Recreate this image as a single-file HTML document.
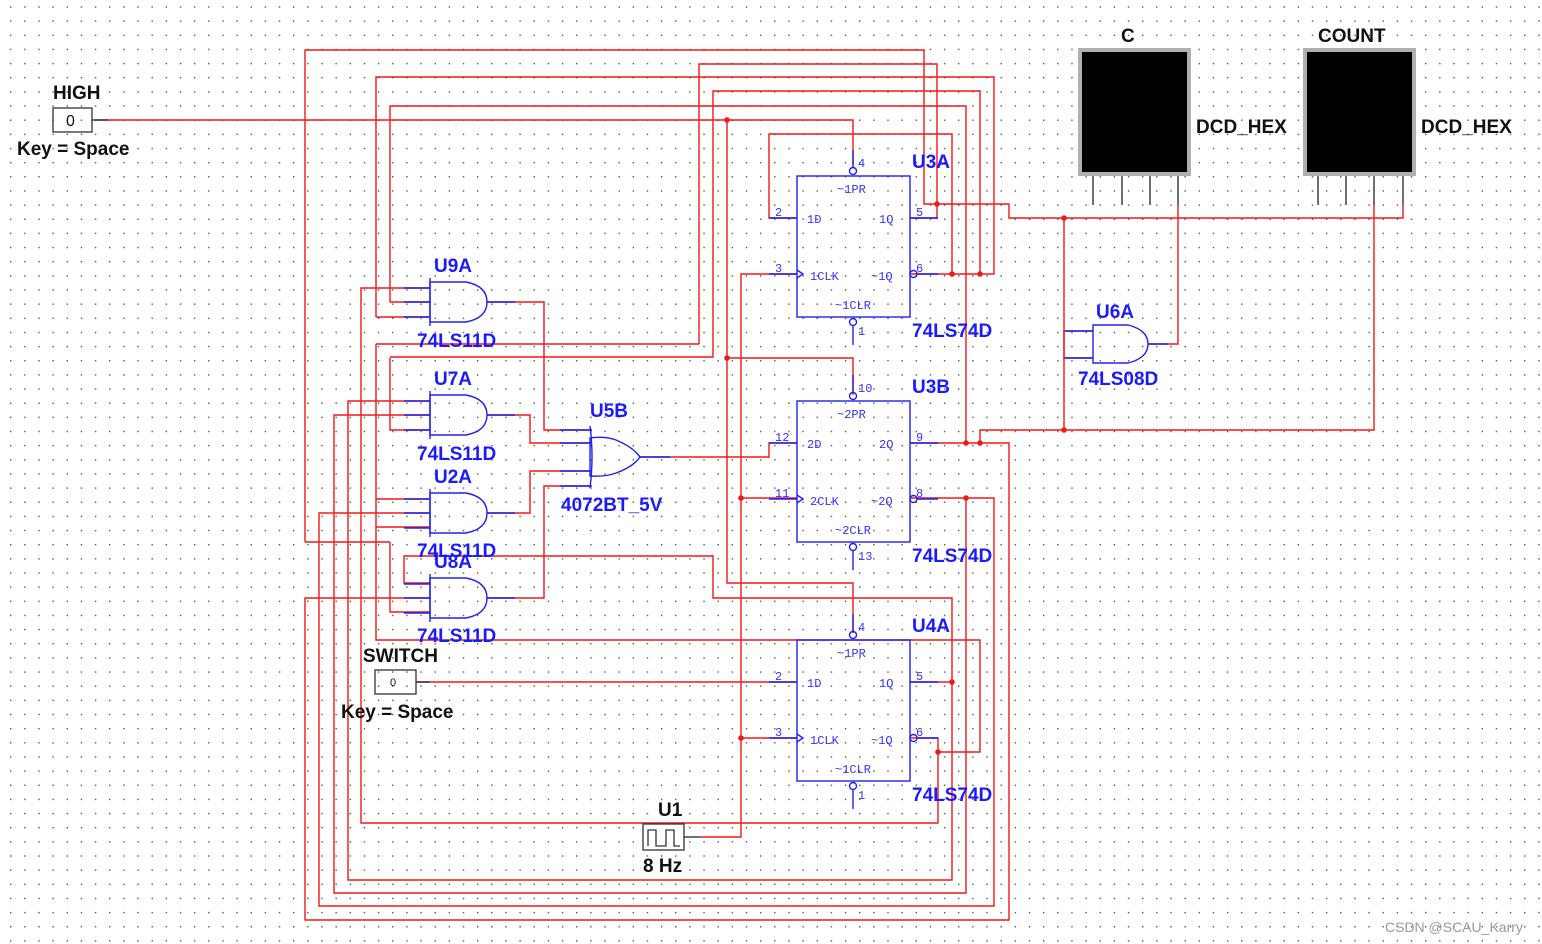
<!DOCTYPE html>
<html><head><meta charset="utf-8"><style>
html,body{margin:0;padding:0;background:#fff;}
svg{display:block;}
.b{font-family:"Liberation Sans",sans-serif;font-weight:bold;font-size:19px;fill:#1a1aff;}
.k{font-family:"Liberation Sans",sans-serif;font-weight:bold;font-size:19px;fill:#111;}
.m{font-family:"Liberation Mono",monospace;font-size:12px;fill:#3333ff;}
</style></head><body>
<svg width="1542" height="944" viewBox="0 0 1542 944" xmlns="http://www.w3.org/2000/svg">
<defs><pattern id="g" x="10" y="6.3" width="14.15" height="14.15" patternUnits="userSpaceOnUse"><rect x="0" y="0" width="1.4" height="1.4" fill="#555"/></pattern></defs>
<rect width="1542" height="944" fill="url(#g)"/>
<g fill="none" stroke="#f01818" stroke-width="1.4">
<polyline points="305,542 305,50 924,50 924,204 1009,204 1009,218 1403,218 1403,205"/>
<polyline points="390,542 390,612 430,612"/>
<line x1="305" y1="542" x2="390" y2="542"/>
<polyline points="699,344 699,64 937,64 937,218 910,218"/>
<polyline points="376,317 376,77 994,77 994,274 910,274"/>
<polyline points="390,357 713,357 713,91 980,91 980,274"/>
<polyline points="390,302 390,106 966,106 966,443"/>
<polyline points="95,120 853,120 853,165"/>
<polyline points="727,120 727,583 853,583 853,633"/>
<polyline points="727,358 853,358 853,395"/>
<polyline points="797,218 769,218 769,134 952,134 952,274"/>
<polyline points="376,344 699,344"/>
<polyline points="700,837 741,837 741,274 797,274"/>
<line x1="741" y1="498" x2="797" y2="498"/>
<line x1="741" y1="738" x2="797" y2="738"/>
<polyline points="430,288 361,288 361,823 938,823 938,738 910,738"/>
<line x1="376" y1="317" x2="430" y2="317"/>
<line x1="390" y1="302" x2="430" y2="302"/>
<polyline points="390,358 390,430 430,430"/>
<polyline points="430,401 348,401 348,880 952,880 952,598 713,598 713,556 404,556 404,583 430,583"/>
<polyline points="430,415 334,415 334,893 966,893 966,498"/>
<polyline points="430,513 319,513 319,906 994,906 994,498 910,498"/>
<polyline points="430,598 305,598 305,920 1009,920 1009,443 910,443"/>
<polyline points="376,344 376,640 980,640 980,752 938,752"/>
<line x1="376" y1="499" x2="430" y2="499"/>
<line x1="376" y1="527" x2="430" y2="527"/>
<line x1="910" y1="682" x2="952" y2="682"/>
<polyline points="487,302 544,302 544,430 590,430"/>
<polyline points="487,415 530,415 530,443 590,443"/>
<polyline points="487,513 530,513 530,471 590,471"/>
<polyline points="487,598 544,598 544,486 590,486"/>
<polyline points="640,457 769,457 769,443 797,443"/>
<polyline points="416,682 797,682"/>
<polyline points="980,443 980,430 1374,430 1374,205"/>
<polyline points="1093,331 1064,331 1064,430"/>
<polyline points="1064,218 1064,358 1093,358"/>
<polyline points="1148,344 1178,344 1178,205"/>
</g>
<g fill="#f01818">
<circle cx="727" cy="120" r="2.8"/><circle cx="727" cy="358" r="2.8"/><circle cx="741" cy="498" r="2.8"/><circle cx="741" cy="738" r="2.8"/>
<circle cx="937" cy="204" r="2.8"/><circle cx="952" cy="274" r="2.8"/><circle cx="980" cy="274" r="2.8"/><circle cx="966" cy="443" r="2.8"/>
<circle cx="980" cy="443" r="2.8"/><circle cx="966" cy="498" r="2.8"/><circle cx="952" cy="682" r="2.8"/><circle cx="938" cy="752" r="2.8"/>
<circle cx="1064" cy="218" r="2.8"/><circle cx="1064" cy="430" r="2.8"/>
</g>
<g fill="none" stroke="#2020ee" stroke-width="1.4">
<g id="and3"><path d="M430,282 L466,282 Q487,286 487,302 Q487,318 466,322 L430,322 Z"/><line x1="430" y1="278" x2="430" y2="326"/>
<line x1="404" y1="288" x2="430" y2="288"/><line x1="404" y1="302" x2="430" y2="302"/><line x1="404" y1="317" x2="430" y2="317"/><line x1="487" y1="302" x2="515" y2="302"/></g>
<use href="#and3" y="113"/><use href="#and3" y="211"/><use href="#and3" y="296"/>
<path d="M590,426 Q594,457 590,488" /><path d="M590,438 Q605,436 616,440 Q633,447 640,457 Q633,467 616,473 Q605,477 590,476 Z"/>
<line x1="560" y1="430" x2="592" y2="430"/><line x1="560" y1="443" x2="592" y2="443"/><line x1="560" y1="471" x2="592" y2="471"/><line x1="560" y1="486" x2="592" y2="486"/><line x1="640" y1="457" x2="670" y2="457"/>
<path d="M1093,325 L1128,325 Q1148,330 1148,344 Q1148,358 1128,363 L1093,363 Z"/>
<line x1="1065" y1="331" x2="1093" y2="331"/><line x1="1065" y1="358" x2="1093" y2="358"/><line x1="1148" y1="344" x2="1168" y2="344"/>
<g id="ff"><rect x="797" y="176" width="113" height="141"/>
<line x1="853" y1="150" x2="853" y2="167"/><circle cx="853" cy="171" r="3.5"/><circle cx="853" cy="322" r="3.5"/><line x1="853" y1="326" x2="853" y2="345"/>
<line x1="769" y1="218" x2="797" y2="218"/><line x1="769" y1="274" x2="797" y2="274"/><polyline points="797,270 803,274 797,278"/>
<line x1="910" y1="218" x2="938" y2="218"/><circle cx="913.5" cy="274" r="3.5"/><line x1="917" y1="274" x2="938" y2="274"/></g>
<use href="#ff" y="225"/><use href="#ff" y="464"/>
</g>
<g class="m">
<text x="837" y="193">~1PR</text><text x="807" y="223">1D</text><text x="879" y="223">1Q</text><text x="810" y="280">1CLK</text><text x="871" y="280">~1Q</text><text x="835" y="309">~1CLR</text>
<text x="858" y="167">4</text><text x="775" y="216">2</text><text x="916" y="216">5</text><text x="775" y="272">3</text><text x="916" y="272">6</text><text x="858" y="335">1</text>
<text x="837" y="418">~2PR</text><text x="807" y="448">2D</text><text x="879" y="448">2Q</text><text x="810" y="505">2CLK</text><text x="871" y="505">~2Q</text><text x="835" y="534">~2CLR</text>
<text x="858" y="392">10</text><text x="775" y="441">12</text><text x="916" y="441">9</text><text x="775" y="497">11</text><text x="916" y="497">8</text><text x="858" y="560">13</text>
<text x="837" y="657">~1PR</text><text x="807" y="687">1D</text><text x="879" y="687">1Q</text><text x="810" y="744">1CLK</text><text x="871" y="744">~1Q</text><text x="835" y="773">~1CLR</text>
<text x="858" y="631">4</text><text x="775" y="680">2</text><text x="916" y="680">5</text><text x="775" y="736">3</text><text x="916" y="736">6</text><text x="858" y="799">1</text>
</g>
<rect x="1080" y="50" width="109" height="124" fill="#000" stroke="#b0b0b0" stroke-width="4"/>
<rect x="1305" y="50" width="109" height="124" fill="#000" stroke="#b0b0b0" stroke-width="4"/>
<g stroke="#333" stroke-width="1.4"><line x1="1093" y1="176" x2="1093" y2="205"/><line x1="1122" y1="176" x2="1122" y2="205"/><line x1="1150" y1="176" x2="1150" y2="205"/><line x1="1178" y1="176" x2="1178" y2="205"/>
<line x1="1318" y1="176" x2="1318" y2="205"/><line x1="1346" y1="176" x2="1346" y2="205"/><line x1="1374" y1="176" x2="1374" y2="205"/><line x1="1403" y1="176" x2="1403" y2="205"/>
<line x1="92" y1="120" x2="108" y2="120"/><line x1="416" y1="682" x2="430" y2="682"/><line x1="684" y1="837" x2="700" y2="837"/></g>
<rect x="53" y="108" width="39" height="24" fill="none" stroke="#333" stroke-width="1.3"/>
<text x="66" y="126" class="k" style="font-weight:normal;font-size:16px">0</text>
<rect x="375" y="670" width="41" height="24" fill="none" stroke="#333" stroke-width="1.3"/>
<text x="390" y="686" class="k" style="font-weight:normal;font-size:11px">0</text>
<rect x="643" y="824" width="41" height="26" fill="#fff" stroke="#333" stroke-width="1.3"/>
<polyline points="648,846 648,830 656,830 656,846 666,846 666,830 674,830 674,846 680,846" fill="none" stroke="#333" stroke-width="1.3"/>
<g class="k">
<text x="53" y="99">HIGH</text><text x="17" y="155">Key = Space</text>
<text x="363" y="662">SWITCH</text><text x="341" y="718">Key = Space</text>
<text x="658" y="816">U1</text><text x="643" y="872">8 Hz</text>
<text x="1121" y="42">C</text><text x="1318" y="42">COUNT</text>
<text x="1196" y="133">DCD_HEX</text><text x="1421" y="133">DCD_HEX</text>
</g>
<g class="b">
<text x="434" y="272">U9A</text><text x="417" y="347">74LS11D</text>
<text x="434" y="385">U7A</text><text x="417" y="460">74LS11D</text>
<text x="434" y="483">U2A</text><text x="417" y="557">74LS11D</text>
<text x="434" y="568">U8A</text><text x="417" y="642">74LS11D</text>
<text x="590" y="417">U5B</text><text x="561" y="511">4072BT_5V</text>
<text x="912" y="168">U3A</text><text x="912" y="337">74LS74D</text>
<text x="912" y="393">U3B</text><text x="912" y="562">74LS74D</text>
<text x="912" y="632">U4A</text><text x="912" y="801">74LS74D</text>
<text x="1096" y="318">U6A</text><text x="1078" y="385">74LS08D</text>
</g>
<text x="1385" y="932" style="font-family:'Liberation Sans',sans-serif;font-size:14px;fill:#999">CSDN @SCAU_Karry</text>
</svg>
</body></html>
